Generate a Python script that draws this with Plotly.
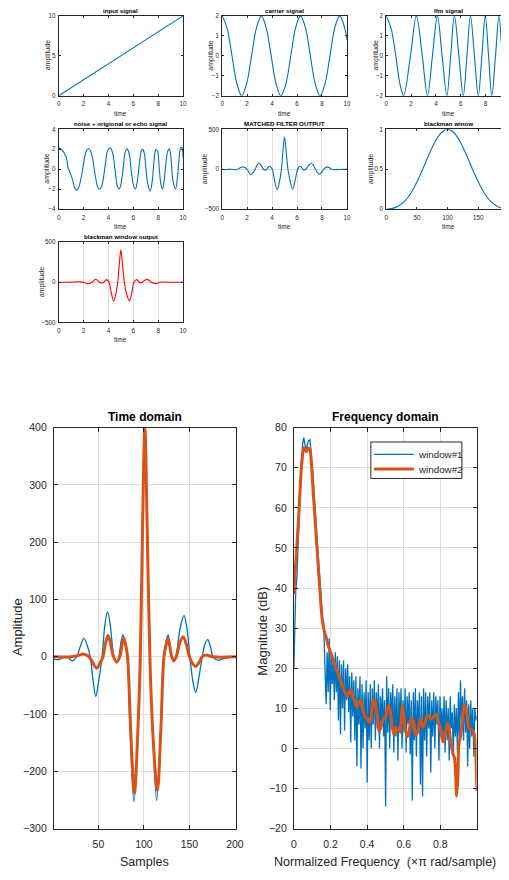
import numpy as np
import plotly.graph_objects as go

W, H = 509, 880

# ---------------- data ----------------
input_time = [0, 10]
input_amp = [0, 10]

carrier_time = [0, 0.39, 0.79, 1.18, 1.57, 1.96, 2.36, 2.75, 3.14, 3.53, 3.93, 4.32, 4.71,
                5.11, 5.50, 5.89, 6.28, 6.68, 7.07, 7.46, 7.85, 8.25, 8.64, 9.03, 9.42, 9.82, 10]
carrier_amp = [2, 1.4, 0, -1.4, -2, -1.4, 0, 1.4, 2, 1.4, 0, -1.4, -2,
               -1.4, 0, 1.4, 2, 1.4, 0, -1.4, -2, -1.4, 0, 1.4, 2, 1.4, 0.8]

lfm_time = [0, 0.38, 0.77, 1.1, 1.40, 1.95, 2.43, 2.9, 3.32, 3.72, 4.12, 4.5, 4.88, 5.19,
            5.49, 5.85, 6.2, 6.5, 6.78, 7.1, 7.41, 7.7, 7.97, 8.24, 8.5, 8.8, 9.08, 9.33, 9.58]
lfm_amp = [2, 1.4, 0, -1.4, -2, 0, 2, 0, -2, 0, 2, 0, -2, 0,
           2, 0, -2, 0, 2, 0, -2, 0, 2, 0, -2, 0, 2, 0, -2]

echo_time = [0, 0.21, 0.39, 0.52, 0.63, 0.66, 0.72, 0.87, 1.05, 1.18, 1.31, 1.47, 1.63, 1.78,
             1.94, 2.1, 2.26, 2.39, 2.57, 2.76, 2.94, 3.12, 3.25, 3.44, 3.62, 3.78, 3.94,
             4.15, 4.33, 4.54, 4.72, 4.86, 5.01, 5.2, 5.35, 5.51, 5.67, 5.85, 6.04, 6.17,
             6.33, 6.51, 6.67, 6.77, 6.9, 7.03, 7.19, 7.35, 7.51, 7.64, 7.74, 7.82, 7.95,
             8.08, 8.22, 8.35, 8.48, 8.61, 8.77, 8.9, 9.03, 9.19, 9.4, 9.55, 9.69, 9.82,
             9.92, 10]
echo_amp = [2.14, 2.0, 1.74, 1.41, 1.09, 0.9, 0.25, -0.23, -0.82, -1.41, -1.94, -2.07, -1.74,
            -1.0, 0.16, 1.32, 1.94, 2.07, 1.81, 0.82, -0.66, -1.74, -2.0, -1.74, -0.66,
            0.82, 1.87, 2.14, 1.64, -0.16, -1.71, -1.97, -1.48, 0.33, 1.74, 2.04, 1.55,
            -0.33, -1.74, -1.97, -1.15, 0.82, 1.94, 2.0, 1.48, -0.16, -1.64, -2.2, -1.32,
            0.49, 1.64, 1.97, 1.81, 0.16, -1.48, -1.97, -1.15, 0.49, 1.81, 2.04, 1.15,
            -1.15, -1.97, -0.82, 1.15, 2.2, 2.14, 1.15]

# matched filter output (window #1) and Blackman windowed output (window #2), by sample
mf_samples = [1, 6, 11, 16, 21, 26, 30, 34, 38, 41, 44, 47, 50, 54, 57, 60, 63, 67, 70, 72.5,
              75, 77, 79, 81.5, 85, 89, 93, 96, 98.5, 101, 103.5, 106.5, 110, 114, 118, 122,
              124.5, 126.6, 128.5, 130.5, 132.6, 135, 140, 144, 147, 150.5, 154, 157, 160,
              164, 167, 170, 173, 176, 181, 188, 195, 201]
mf_amp = [-4, -5, -2, -1, -7, 0, 18, 32, 18, 0, -40, -69, -45, 0, 55, 79, 55, 0, -11, 0,
          28, 38, 25, 0, -140, -253, -150, 0, 230, 402, 230, 0, -150, -251, -140, 0,
          28, 38, 20, 0, -9, 0, 52, 72, 52, 0, -45, -62, -40,
          0, 22, 30, 18, 0, -6, -3, -1, 0]

bwo_samples = [1, 20, 27, 33, 39, 43, 48, 52, 55, 58, 60.5, 63, 66.5, 70, 73.5, 76, 78, 80,
               82, 85.5, 89.5, 93, 96, 98.5, 101, 103.5, 106.5, 110, 114.8, 118.5, 122,
               124.5, 126.5, 128.5, 130.5, 133, 135.5, 139.5, 143, 146.5, 150, 153.5, 157,
               160.5, 164, 169, 175, 201]
bwo_amp = [0, 0, 2, 5, 1, -8, -20, -10, 0, 25, 37, 25, 0, -9, 0, 22, 32, 20,
           0, -130, -238, -140, 0, 230, 400, 230, 0, -140, -233, -130, 0,
           22, 32, 18, 0, -6, 0, 25, 35, 22, 0, -12, -17,
           -10, 0, 3, 0, 0]

blackman_n = [0, 10, 20, 30, 40, 50, 60, 70, 80, 90, 100, 110, 120, 130, 140, 150, 160,
              170, 180, 190, 200]
blackman_w = [0, 0.01, 0.04, 0.1, 0.2, 0.34, 0.51, 0.69, 0.85, 0.96, 1.0, 0.96, 0.85, 0.69,
              0.51, 0.34, 0.2, 0.1, 0.04, 0.01, 0]

# frequency domain
w1_lobe_freq = [0, 0.004, 0.01, 0.016, 0.022, 0.03, 0.04, 0.048, 0.054, 0.06, 0.066, 0.072,
                0.08, 0.088, 0.095, 0.103, 0.11, 0.118, 0.126, 0.134, 0.142, 0.15, 0.155,
                0.158, 0.162]
w1_lobe_db = [20, 30, 39, 42, 50, 62, 71, 76, 77.5, 76, 74.2, 75.5, 76.8, 77, 74, 69, 64,
              58, 52, 46, 40, 35, 33, 31, 32]
w1_tail_db = [27, 18, 11, 24, 14, 27.5, 9.5, 24, 16, 22, 12, 24, 14, 23, 7, 22, 3.5, 21, 10,
              22, 4.5, 20, 12, 21, 9, 18, 1.5, 19, 8, 17, 2, 18, -4.5, 15, 6, 18, -5, 16,
              0, 14, 5, 17, -8.5, 14, 2, 16, 0, 15, 6, 17, 2, 14, 5, 16, 0, 13, 6, 15, 3,
              12, -14.5, 18, 4, 15, 0, 14, 6, 16, -1, 13, 3, 15, -3, 14, 5, 15, 0, 12, 4,
              15, -1, 13, 6, 14, -1.5, 12, -13, 14, 2, 15, -2, 12, 4, 14, -9, 13, -12, 15,
              2, 14, -2, 13, 5, 14, -6, 12, 3, 14, 0, 13, 6, 12, -3, 13, 4, 10, 2, 13, -1,
              12, 2, 10, -3, 13, 5, 9, -2, 11, 3, 10, -1, 14, 2, 17, 6, 13, 2, 15, 4, 12,
              -4.5, 11, 0, 12, 3, 10, -2, 10, 7, 8]

w2_freq = [0, 0.01, 0.02, 0.03, 0.038, 0.046, 0.054, 0.062, 0.068, 0.075, 0.082, 0.088,
           0.095, 0.102, 0.11, 0.118, 0.127, 0.136, 0.145, 0.154, 0.165, 0.175, 0.185,
           0.2, 0.216, 0.234, 0.247, 0.261, 0.279, 0.291, 0.305, 0.314, 0.323, 0.334,
           0.344, 0.354, 0.365, 0.378, 0.39, 0.4, 0.413, 0.424, 0.434, 0.443, 0.456,
           0.466, 0.478, 0.489, 0.5, 0.511, 0.521, 0.534, 0.546, 0.557, 0.568, 0.58,
           0.593, 0.605, 0.618, 0.629, 0.641, 0.654, 0.665, 0.677, 0.692, 0.704, 0.718,
           0.731, 0.749, 0.763, 0.776, 0.79, 0.803, 0.815, 0.826, 0.839, 0.848, 0.86,
           0.871, 0.878, 0.884, 0.889, 0.896, 0.901, 0.912, 0.921, 0.93, 0.939, 0.948,
           0.957, 0.97, 0.982, 0.991, 0.996, 1.0]
w2_db = [38.5, 46, 53, 61, 68, 72.5, 75, 74.5, 74, 75, 74.5, 74.8,
         71.5, 66.5, 61, 55.5, 49.5, 43.5, 37.5, 32.5, 29.5, 28, 26,
         24, 22, 19.6, 18, 16.3, 14, 13, 14.2, 14.5, 12.8, 11.5,
         10.3, 11.4, 12, 9.5, 7.7, 7.5, 6.4, 8.2, 12.3, 11.5, 7.9,
         4.1, 5.7, 7.4, 7.8, 9.9, 10.8, 6.6, 3.3, 5.3, 4.9, 4.1,
         10.7, 6, 2.9, 4.1, 7.6, 6.6, 3.3, 4.1, 7.4, 5.3, 6.6,
         8.4, 7.4, 7.8, 8.6, 6.6, 4.1, 1.6, 3.3, 6.4, 4.9, 0.8,
         -1.6, -2.4, -6.6, -11.9, -7.4, 0.8, 3.3, 7.4, 10.8, 10.2, 7.8,
         4.9, 4.8, 4.1, 1.6, -4, -10.6]

legend_names = ["window#1", "window#2"]

# ---------------- derived x grids ----------------
mf_time = (np.array(mf_samples) - 1) / 20.0
bwo_time = (np.array(bwo_samples) - 1) / 20.0
w1_tail_freq = np.linspace(0.165, 1.0, len(w1_tail_db))
w1_freq = np.concatenate([w1_lobe_freq, w1_tail_freq])
w1_db = np.concatenate([w1_lobe_db, w1_tail_db])

# ---------------- styling ----------------
FONT = "Liberation Sans, Arial, sans-serif"
AX = "#262626"
GRID = "#dedede"
BLUE = "#0072BD"
ORANGE = "#D95319"
RED = "#FF0000"


def dx(p):
    return p / W


def dy(p):
    return 1 - p / H


fig = go.Figure()
layout = dict(
    width=W, height=H, margin=dict(l=0, r=0, t=0, b=0),
    paper_bgcolor="white", plot_bgcolor="white",
    font=dict(family=FONT, color=AX),
    showlegend=False,
)
annotations = []
shapes = []

col_x = [(57, 184), (224, 351.5), (391.7, 509)]
row_y = [(10, 91), (125, 206), (239.3, 320.7)]

panels = [
    # (row, col, title, xrange, xticks, yrange, yticks, grid, ylabel_x)
    (0, 0, "input signal", [0, 10], [0, 2, 4, 6, 8, 10], [0, 10], [0, 5, 10], False, 45.5),
    (0, 1, "carrier signal", [0, 10], [0, 2, 4, 6, 8, 10], [-2, 2], [-2, -1, 0, 1, 2], False, 212.5),
    (0, 2, "lfm signal", [0, 9.24], [0, 2, 4, 6, 8], [-2, 2], [-2, -1, 0, 1, 2], False, 381),
    (1, 0, "noise + origional or echo signal", [0, 10], [0, 2, 4, 6, 8, 10], [-4, 4], [-4, -2, 0, 2, 4], False, 45.5),
    (1, 1, "MATCHED FILTER OUTPUT", [0, 10], [0, 2, 4, 6, 8, 10], [-500, 500], [-500, 0, 500], True, 206.5),
    (1, 2, "blackman winow", [0, 187], [0, 50, 100, 150], [0, 1], [0, 0.5, 1], False, 376),
    (2, 0, "blackman window output", [0, 10], [0, 2, 4, 6, 8, 10], [-500, 500], [-500, 0, 500], True, 40),
]

series = [
    (input_time, input_amp, BLUE, "linear"),
    (carrier_time, carrier_amp, BLUE, "spline"),
    (lfm_time, lfm_amp, BLUE, "spline"),
    (echo_time, echo_amp, BLUE, "spline"),
    (mf_time, mf_amp, BLUE, "spline"),
    (blackman_n, blackman_w, BLUE, "spline"),
    (bwo_time, bwo_amp, RED, "spline"),
]

title_y = [5, 119.5, 234]
xlabel_y = [108.5, 223.5, 338.5]

for i, (panel, ser) in enumerate(zip(panels, series), start=1):
    r, c, title, xr, xt, yr, yt, grid, ylx = panel
    x0, x1 = col_x[c]
    y0, y1 = row_y[r]
    cropped = (c == 2)
    base = dict(showline=True, linecolor=AX, linewidth=1, ticks="inside", ticklen=2,
                tickwidth=1, tickcolor=AX, tickfont=dict(family=FONT, size=6.3, color=AX),
                zeroline=False, fixedrange=True, gridcolor=GRID, gridwidth=1)
    xa = dict(base, domain=[dx(x0), dx(x1)], range=xr, tickvals=xt,
              anchor="y" if i == 1 else f"y{i}", mirror="ticks", showgrid=grid,
              ticklabelstandoff=2)
    ya = dict(base, domain=[dy(y1), dy(y0)], range=yr, tickvals=yt,
              anchor="x" if i == 1 else f"x{i}", mirror=False if cropped else "ticks",
              showgrid=grid, ticklabelstandoff=1)
    suffix = "" if i == 1 else str(i)
    layout[f"xaxis{suffix}"] = xa
    layout[f"yaxis{suffix}"] = ya
    xs, ys, color, shape = ser
    fig.add_trace(go.Scatter(x=xs, y=ys, mode="lines", showlegend=False,
                             line=dict(color=color, width=1.1, shape=shape, smoothing=1),
                             xaxis="x" + suffix, yaxis="y" + suffix, cliponaxis=True))
    cx = (x0 + (x0 + 127)) / 2 if cropped else (x0 + x1) / 2
    annotations.append(dict(text=f"<b>{title}</b>", x=dx(cx), y=dy(title_y[r]), xref="paper",
                            yref="paper", showarrow=False, font=dict(size=6.2, color="black"),
                            xanchor="center", yanchor="middle"))
    annotations.append(dict(text="time", x=dx(cx), y=dy(xlabel_y[r]), xref="paper",
                            yref="paper", showarrow=False, font=dict(size=6.5, color=AX),
                            xanchor="center", yanchor="middle"))
    annotations.append(dict(text="amplitude", x=dx(ylx), y=dy((y0 + y1) / 2), xref="paper",
                            yref="paper", showarrow=False, font=dict(size=7, color=AX),
                            textangle=-90, xanchor="center", yanchor="middle"))

# ---------------- bottom: time domain ----------------
bx = dict(showline=True, linecolor=AX, linewidth=1, ticks="inside", ticklen=4, tickwidth=1,
          tickcolor=AX, tickfont=dict(family=FONT, size=10.5, color=AX), zeroline=False,
          fixedrange=True, showgrid=True, gridcolor=GRID, gridwidth=1, mirror="ticks")

layout["xaxis8"] = dict(bx, domain=[dx(52), dx(238)], range=[1, 201], tickvals=[50, 100, 150, 200],
                        anchor="y8", ticklabelstandoff=6)
layout["yaxis8"] = dict(bx, domain=[dy(834), dy(427.5)], range=[-300, 400],
                        tickvals=[-300, -200, -100, 0, 100, 200, 300, 400], anchor="x8",
                        ticklabelstandoff=4)
fig.add_trace(go.Scatter(x=mf_samples, y=mf_amp, mode="lines", showlegend=False,
                         line=dict(color=BLUE, width=1.3, shape="spline"), xaxis="x8", yaxis="y8"))
fig.add_trace(go.Scatter(x=bwo_samples, y=bwo_amp, mode="lines", showlegend=False,
                         line=dict(color=ORANGE, width=3, shape="spline"), xaxis="x8", yaxis="y8"))

# ---------------- bottom: frequency domain ----------------
layout["xaxis9"] = dict(bx, domain=[dx(297.3), dx(484)], range=[0, 0.998],
                        tickvals=[0, 0.2, 0.4, 0.6, 0.8], ticktext=["0", "0.2", "0.4", "0.6", "0.8"],
                        anchor="y9", ticklabelstandoff=6)
layout["yaxis9"] = dict(bx, domain=[dy(834), dy(427.5)], range=[-20, 80],
                        tickvals=list(range(-20, 81, 10)), anchor="x9", ticklabelstandoff=4)
fig.add_trace(go.Scatter(x=w1_freq, y=w1_db, mode="lines", name=legend_names[0],
                         line=dict(color=BLUE, width=1.3), xaxis="x9", yaxis="y9"))
fig.add_trace(go.Scatter(x=w2_freq, y=w2_db, mode="lines", name=legend_names[1],
                         line=dict(color=ORANGE, width=3, shape="spline", smoothing=0.6),
                         xaxis="x9", yaxis="y9"))

# MATLAB-style legend box
shapes.append(dict(type="rect", xref="paper", yref="paper", x0=dx(376), x1=dx(469),
                   y0=dy(479), y1=dy(442), line=dict(color=AX, width=1), fillcolor="white",
                   layer="above"))
for name, color, width, yy in [(legend_names[0], BLUE, 1.3, 454.5),
                               (legend_names[1], ORANGE, 3, 469.5)]:
    shapes.append(dict(type="line", xref="paper", yref="paper", x0=dx(379), x1=dx(420),
                       y0=dy(yy), y1=dy(yy), line=dict(color=color, width=width), layer="above"))
    annotations.append(dict(text=name, x=dx(422.5), y=dy(yy), xref="paper", yref="paper",
                            showarrow=False, xanchor="left", yanchor="middle",
                            font=dict(size=9.8, color=AX)))

for text, x, y, size in [("<b>Time domain</b>", 145, 417, 12),
                         ("<b>Frequency domain</b>", 390.5, 417, 12),
                         ("Samples", 145, 868, 12.5),
                         ("Normalized Frequency \u00a0(\u00d7\u03c0 rad/sample)", 390.5, 868, 12.5)]:
    annotations.append(dict(text=text, x=dx(x), y=dy(y), xref="paper", yref="paper",
                            showarrow=False, font=dict(size=size, color="black" if "<b>" in text else AX),
                            xanchor="center", yanchor="middle"))
for text, x, y in [("Amplitude", 15, 630), ("Magnitude (dB)", 265, 634)]:
    annotations.append(dict(text=text, x=dx(x), y=dy(y), xref="paper", yref="paper",
                            showarrow=False, font=dict(size=13, color=AX), textangle=-90,
                            xanchor="center", yanchor="middle"))

layout["annotations"] = annotations
layout["shapes"] = shapes
fig.update_layout(**layout)
fig.write_html("out.html", config={"displayModeBar": False},
               post_script="document.body.style.margin='0px';document.body.style.overflow='hidden';")
